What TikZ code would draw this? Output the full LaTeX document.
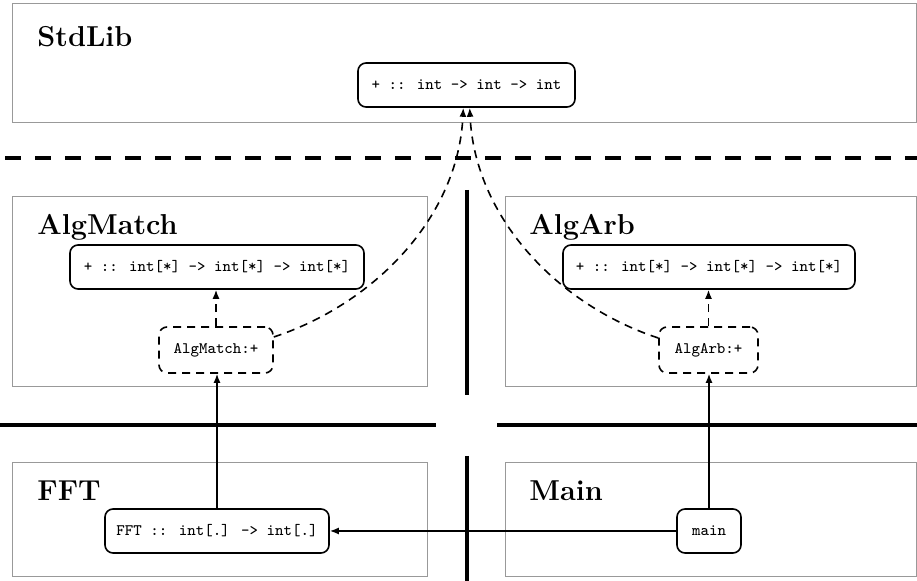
\documentclass[tikz,border=0pt]{standalone}
\usetikzlibrary{arrows.meta}
\begin{document}
\begin{tikzpicture}[x=0.5pt,y=-0.5pt,
  module/.style={draw=black!40, line width=0.5pt},
  modname/.style={anchor=base west, font=\Large\bfseries, inner sep=0pt},
  fn/.style={draw, rounded corners=4pt, line width=0.8pt, font=\ttfamily\footnotesize,
             minimum height=22pt, inner sep=0pt},
  alias/.style={fn, dash pattern=on 4pt off 3pt, minimum height=23pt},
  sep/.style={line width=2pt},
  dsep/.style={line width=2.4pt, dash pattern=on 8pt off 7pt},
  dep/.style={-{Latex[length=4.5pt,width=3.5pt]}, line width=0.8pt},
  ddep/.style={dep, dash pattern=on 4pt off 3pt}]
\useasboundingbox (0,0) rectangle (917,581);

% module frames
\draw[module] (12,4) rectangle (916.5,123);
\draw[module] (12,197) rectangle (427,387);
\draw[module] (505,197) rectangle (916.5,387);
\draw[module] (12,463) rectangle (427,577);
\draw[module] (505,463) rectangle (916.5,577);

\node[modname] (lstd) at (37,47) {StdLib};
\node[modname] (lam) at (37,235) {AlgMatch};
\node[modname] (laa) at (529,235) {AlgArb};
\node[modname] (lfft) at (37,501) {FFT};
\node[modname] (lmain) at (529,501) {Main};

% layer separators
\draw[dsep] (5,158) -- (917,158);
\draw[sep] (466.5,190) -- (466.5,395);
\draw[sep] (0,425) -- (436,425);
\draw[sep] (497,425) -- (917,425);
\draw[sep] (466.5,456) -- (466.5,581);

% functions
\node[fn, minimum width=108.5pt] (std) at (466.5,85) {+ :: int -> int -> int};
\node[fn, minimum width=147pt] (am) at (217,267) {+ :: int[*] -> int[*] -> int[*]};
\node[fn, minimum width=146pt] (aa) at (709,267) {+ :: int[*] -> int[*] -> int[*]};
\node[alias, minimum width=57pt] (amp) at (216,350) {AlgMatch:+};
\node[alias, minimum width=49.5pt] (aap) at (708.5,350) {AlgArb:+};
\node[fn, minimum width=112pt] (fft) at (217,531) {FFT :: int[.] -> int[.]};
\node[fn, minimum width=32pt] (main) at (709,531) {main};

% dependencies
\draw[dep] (main.west) -- (fft.east);
\draw[dep] (main.north) -- (main.north |- aap.south);
\draw[dep] (fft.north) -- (fft.north |- amp.south);
\draw[ddep] (amp.north) -- (amp.north |- am.south);
\draw[ddep] (aap.north) -- (aap.north |- aa.south);
\draw[ddep] ([yshift=6.5pt]amp.east) .. controls +(100,-33) and +(-5,110) .. ([xshift=-1.6pt]std.south);
\draw[ddep] ([yshift=6pt]aap.west) .. controls +(-100,-33) and +(5,110) .. ([xshift=1.6pt]std.south);
\end{tikzpicture}
\end{document}
